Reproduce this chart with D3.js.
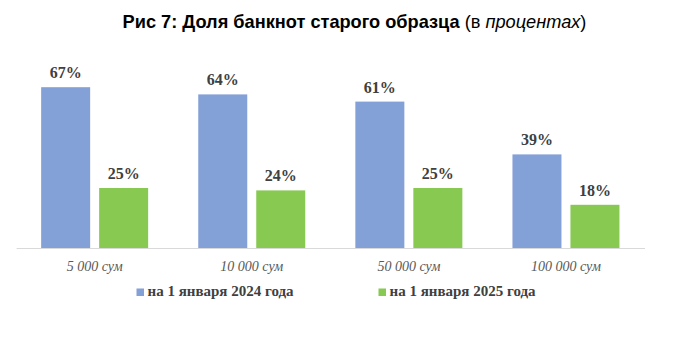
<!DOCTYPE html>
<html><head><meta charset="utf-8">
<script src="https://cdn.jsdelivr.net/npm/d3@7"></script>
<style>
html,body{margin:0;padding:0;background:#fff;}
svg{display:block;}
</style>
</head><body>
<svg id="chart" width="680" height="345"></svg>
<script>
const categories = ["5 000 сум", "10 000 сум", "50 000 сум", "100 000 сум"];
const seriesNames = ["на 1 января 2024 года", "на 1 января 2025 года"];
const values2024 = [67, 64, 61, 39];
const values2025 = [25, 24, 25, 18];
const seriesColors = ["#83A0D7", "#88C952"];

const svg = d3.select("#chart");
const W = 680, H = 345;
svg.append("rect").attr("width", W).attr("height", H).attr("fill", "#fff");

// Title
const title = svg.append("text").attr("x", 354.5).attr("y", 27.5)
  .attr("text-anchor", "middle")
  .style("font-family", "'Liberation Sans', Arial, sans-serif")
  .style("font-size", "18.2px").attr("fill", "#000");
title.append("tspan").style("font-weight", "bold").text("Рис 7: Доля банкнот старого образца ");
title.append("tspan").text("(в ");
title.append("tspan").style("font-style", "italic").text("процентах");
title.append("tspan").text(")");

const x0 = d3.scaleBand().domain(categories).range([16.1, 644.5]);
const x1 = d3.scaleBand().domain([0, 1]).range([0, x0.bandwidth()])
  .paddingInner(0.155).paddingOuter(0.432);
const y = d3.scaleLinear().domain([0, 100]).range([248, 8]);

const data = categories.map((c, i) => ({cat: c, vals: [values2024[i], values2025[i]]}));

const groups = svg.append("g").selectAll("g").data(data).join("g")
  .attr("transform", d => `translate(${x0(d.cat)},0)`);

groups.selectAll("rect").data(d => d.vals.map((v, k) => ({v, k}))).join("rect")
  .attr("x", d => x1(d.k)).attr("width", x1.bandwidth())
  .attr("y", d => y(d.v)).attr("height", d => y(0) - y(d.v))
  .attr("fill", d => seriesColors[d.k]);

groups.selectAll("text.val").data(d => d.vals.map((v, k) => ({v, k}))).join("text")
  .attr("class", "val")
  .attr("x", d => x1(d.k) + x1.bandwidth() / 2)
  .attr("y", d => y(d.v) - 9)
  .attr("text-anchor", "middle")
  .style("font-family", "'Liberation Serif', 'Times New Roman', serif")
  .style("font-weight", "bold").style("font-size", "16px")
  .attr("fill", "#404040")
  .text(d => d.v + "%");

// Axis
const axis = svg.append("g").attr("transform", `translate(0,${y(0)})`)
  .call(d3.axisBottom(x0).tickSize(0).tickPadding(13));
axis.select(".domain").attr("stroke", "#d9d9d9").attr("stroke-width", 1.2);
axis.selectAll("text")
  .style("font-family", "'Liberation Serif', 'Times New Roman', serif")
  .style("font-style", "italic").style("font-size", "14px")
  .attr("fill", "#595959");

// Legend
const legend = svg.append("g");
const legendX = [136.5, 378.5];
seriesNames.forEach((name, i) => {
  const g = legend.append("g").attr("transform", `translate(${legendX[i]},0)`);
  g.append("rect").attr("x", 0).attr("y", 288.5).attr("width", 7.5).attr("height", 7.5)
    .attr("fill", seriesColors[i]);
  g.append("text").attr("x", 11).attr("y", 296)
    .style("font-family", "'Liberation Serif', 'Times New Roman', serif")
    .style("font-weight", "bold").style("font-size", "15px")
    .attr("fill", "#404040").text(name);
});
</script>
</body></html>
